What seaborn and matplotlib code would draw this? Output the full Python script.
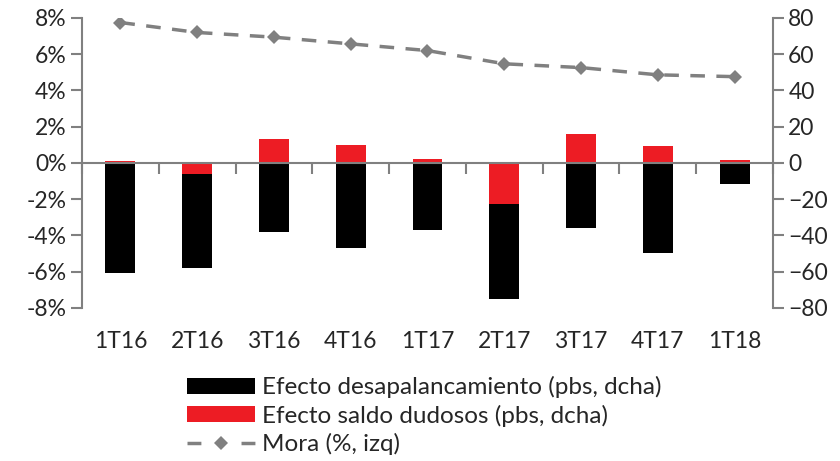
import numpy as np
import matplotlib
matplotlib.use("Agg")
import matplotlib.pyplot as plt
import seaborn as sns
from matplotlib.patches import Patch
from matplotlib.lines import Line2D

# data
quarters = ["1T16", "2T16", "3T16", "4T16", "1T17", "2T17", "3T17", "4T17", "1T18"]
desapalancamiento = [-61, -52, -38, -47, -37, -52.5, -36, -50, -11.6]   # pbs, right axis
saldo_dudosos = [1, -6, 13, 10, 2, -22.5, 16, 9.5, 1.3]                  # pbs, right axis
mora = [7.75, 7.2, 6.94, 6.57, 6.2, 5.47, 5.26, 4.86, 4.76]              # %, left axis

GRAY = "#808080"
RED = "#ED1C24"
FS = 16.5      # tick labels
LFS = 17.5     # legend

sns.set_style("white")
plt.rcParams["font.family"] = ["Lato", "DejaVu Sans"]
plt.rcParams["font.size"] = FS

fig = plt.figure(figsize=(8.4, 4.61), dpi=100)
ax = fig.add_axes([0.0976, 0.3325, 0.8226, 0.6285])
ax2 = ax.twinx()

# stacked bars: red from zero, black below red when red is negative
black_bottom = np.minimum(np.array(saldo_dudosos), 0)
sns.barplot(x=quarters, y=saldo_dudosos, order=quarters, color=RED, saturation=1,
            width=0.39, linewidth=0, ax=ax2)
sns.barplot(x=quarters, y=desapalancamiento, order=quarters, bottom=black_bottom,
            color="black", saturation=1, width=0.39, linewidth=0, ax=ax2)

sns.lineplot(x=np.arange(len(quarters)), y=mora, ax=ax, color=GRAY, lw=2.5,
             linestyle=(0, (4.2, 3.3)), marker="D", markersize=7.5,
             markeredgewidth=0, sort=False)

ax.set_ylim(-8, 8)
ax.set_yticks(range(-8, 9, 2))
ax.set_yticklabels([f"{v}%" for v in range(-8, 9, 2)])
ax2.set_ylim(-80, 80)
ax2.set_yticks(range(-80, 81, 20))
ax.set_xlim(-0.5, len(quarters) - 0.5)
ax.set_xticks(range(len(quarters)))
ax.set_xticklabels(quarters)
ax.set_xticks(np.arange(-0.5, len(quarters), 1.0), minor=True)
ax.set_xlabel("")
ax.set_ylabel("")
ax2.set_ylabel("")

for a in (ax, ax2):
    for s in a.spines.values():
        s.set_visible(False)
    a.grid(False)

ax.spines["left"].set_visible(True)
ax.spines["left"].set_color(GRAY)
ax.spines["left"].set_linewidth(1.5)
ax2.spines["right"].set_visible(True)
ax2.spines["right"].set_color(GRAY)
ax2.spines["right"].set_linewidth(1.5)

ax.tick_params(axis="y", direction="out", length=8, width=1.5, color=GRAY,
               left=True, pad=3, labelsize=FS)
ax2.tick_params(axis="y", direction="out", length=8, width=1.5, color=GRAY,
                right=True, pad=3, labelsize=FS)
ax.tick_params(axis="x", which="major", length=0, pad=17, labelsize=FS)
ax.tick_params(axis="x", which="minor", length=0)

# zero line with category separators
ax2.xaxis.set_visible(True)
ax2.spines["bottom"].set_visible(True)
ax2.spines["bottom"].set_position(("data", 0))
ax2.spines["bottom"].set_color(GRAY)
ax2.spines["bottom"].set_linewidth(1.5)
ax2.tick_params(axis="x", which="major", length=0, labelbottom=False)
ax2.tick_params(axis="x", which="minor", direction="out", length=8, width=1.5,
                color=GRAY, bottom=True, labelbottom=False)

handles = [
    Patch(facecolor="black", edgecolor="none"),
    Patch(facecolor=RED, edgecolor="none"),
    Line2D([], [], color=GRAY, lw=2.5, linestyle=(0, (4.0, 11.56)), marker="D",
           markersize=7.5, markeredgewidth=0),
]
labels = ["Efecto desapalancamiento (pbs, dcha)", "Efecto saldo dudosos (pbs, dcha)",
          "Mora (%, izq)"]
fig.legend(handles, labels, loc="upper left", bbox_to_anchor=(0.2226, 0.184),
           frameon=False, handlelength=2.8, handleheight=0.62, handletextpad=0.29,
           labelspacing=0.26, borderpad=0, borderaxespad=0, fontsize=LFS)

fig.savefig("out.png", dpi=100)
